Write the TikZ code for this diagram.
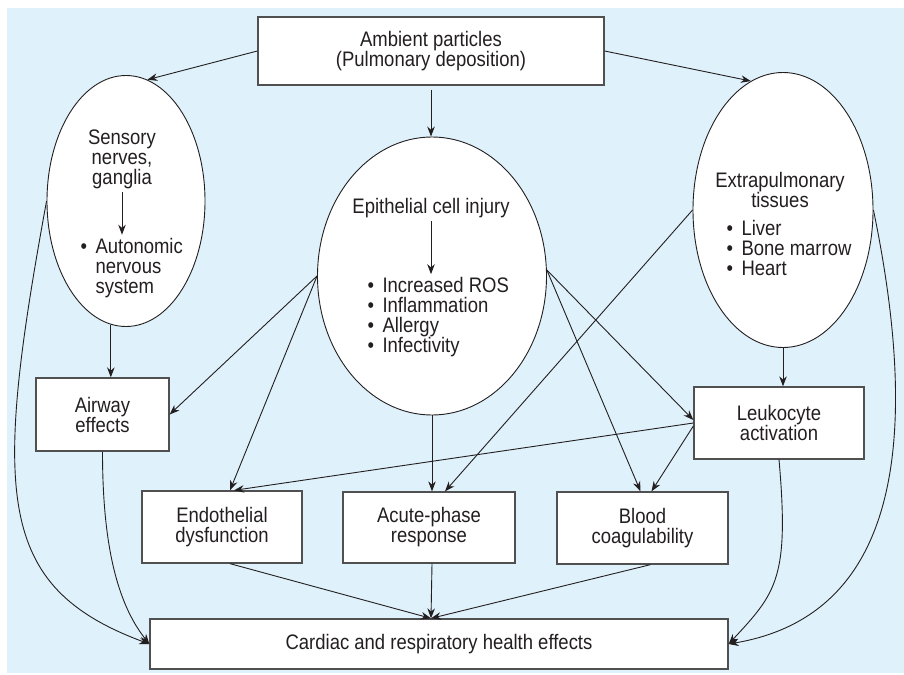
\documentclass[tikz,border=0pt]{standalone}
\usepackage{fontspec}
\setmainfont{Liberation Sans}[FakeStretch=0.88]
\usetikzlibrary{arrows.meta,shapes.geometric}
\definecolor{bgblue}{RGB}{223,241,250}
\definecolor{linegray}{RGB}{80,80,80}
\definecolor{ink}{RGB}{35,31,32}
\newcommand{\bul}{\makebox[15pt][l]{\textbullet}}
\newcommand{\ind}{\hspace*{15pt}}

\begin{document}
\begin{tikzpicture}[x=1pt,y=-1pt,>={Stealth[length=10pt,width=7.5pt]},
    every node/.style={font=\fontsize{21}{20}\selectfont,text=ink},
    box/.style={rectangle,draw=linegray,line width=1.3pt,fill=white,inner sep=0pt,align=center},
    oval/.style={ellipse,draw=ink,line width=0.9pt,fill=white,inner sep=0pt},
    arr/.style={->,draw=ink,line width=0.9pt}]
    \useasboundingbox (0,0) rectangle (904,674);
    % background
    \fill[bgblue] (7,8) rectangle (904,673);
    % boxes
    \node[box,minimum width=346pt,minimum height=68pt] (amb) at (431,51) {Ambient particles\\(Pulmonary deposition)};
    \node[box,minimum width=133pt,minimum height=73pt] (airway) at (102.5,414.5) {Airway\\effects};
    \node[box,minimum width=160pt,minimum height=72pt] (endo) at (222,527) {Endothelial\\dysfunction};
    \node[box,minimum width=172pt,minimum height=71pt] (acute) at (429,527.5) {Acute-phase\\response};
    \node[box,minimum width=171pt,minimum height=72pt] (blood) at (642.5,528) {Blood\\coagulability};
    \node[box,minimum width=170pt,minimum height=72pt] (leuko) at (779,423) {Leukocyte\\activation};
    \node[box,minimum width=578pt,minimum height=50pt] (cardiac) at (439,644) {Cardiac and respiratory health effects};
    % ellipses
    \node[oval,minimum width=158pt,minimum height=251pt] (sens) at (126,201) {};
    \node[oval,minimum width=229pt,minimum height=278pt] (epi) at (432,276) {};
    \node[oval,minimum width=180pt,minimum height=275pt] (extra) at (783,210) {};
    % texts inside the ellipses
    \node[align=center] (sensT) at (122,159) {Sensory\\nerves,\\ganglia};
    \node[align=left,anchor=west] (sensB) at (77,268) {\bul Autonomic\\\ind nervous\\\ind system};
    \node (epiT) at (431,208) {Epithelial cell injury};
    \node[align=left,anchor=west] (epiB) at (364,317.5) {\bul Increased ROS\\\bul Inflammation\\\bul Allergy\\\bul Infectivity};
    \node[align=center] (extraT) at (780,190) {Extrapulmonary\\tissues};
    \node[align=left,anchor=west] (extraB) at (723,247.5) {\bul Liver\\\bul Bone marrow\\\bul Heart};
    \draw[arr] (sensT.south) -- (sensT.south |- sensB.north);
    \draw[arr] (epiT.south) -- (epiT.south |- epiB.north);
    % from the particles
    \draw[arr] (amb.west) -- (sens.80);
    \draw[arr] ([yshift=-4pt]amb.south) -- (amb.south |- epi.north);
    \draw[arr] (amb.east) -- (extra.104);
    % sensory side
    \draw[arr] (sens.-97) -- (sens.-97 |- airway.north);
    \draw[arr] (sens.west) .. controls (-7,494) and (-4.5,587) .. (cardiac.west);
    \draw[arr] (airway.south) .. controls (102.5,541) and (116,602) .. (cardiac.west);
    % epithelial injury
    \draw[arr] (epi.west) -- (airway.east);
    \draw[arr] (epi.west) -- ([xshift=8pt]endo.north);
    \draw[arr] (epi.south) -- (epi.south |- acute.north);
    \draw[arr] (epi.3) -- ([yshift=3pt]leuko.west);
    \draw[arr] (epi.3) -- ([xshift=-2pt]blood.north);
    % extrapulmonary tissues
    \draw[arr] (extra.west) -- ([xshift=16pt]acute.north);
    \draw[arr] (extra.south) -- (extra.south |- leuko.north);
    \draw[arr] (extra.east) .. controls (918,426) and (906,614) .. (cardiac.east);
    % leukocyte activation
    \draw[arr] (leuko.west) -- ([xshift=12pt]endo.north);
    \draw[arr] ([yshift=-3pt]leuko.west) -- ([xshift=9pt]blood.north);
    \draw[arr] (leuko.south) .. controls (789.5,578.5) and (776,593) .. (cardiac.east);
    % into the health effects
    \foreach \n/\dx in {endo/8,acute/3,blood/8}
      \draw[arr] ([xshift=\dx pt]\n.south) -- ([xshift=-8pt]cardiac.north);
\end{tikzpicture}
\end{document}
